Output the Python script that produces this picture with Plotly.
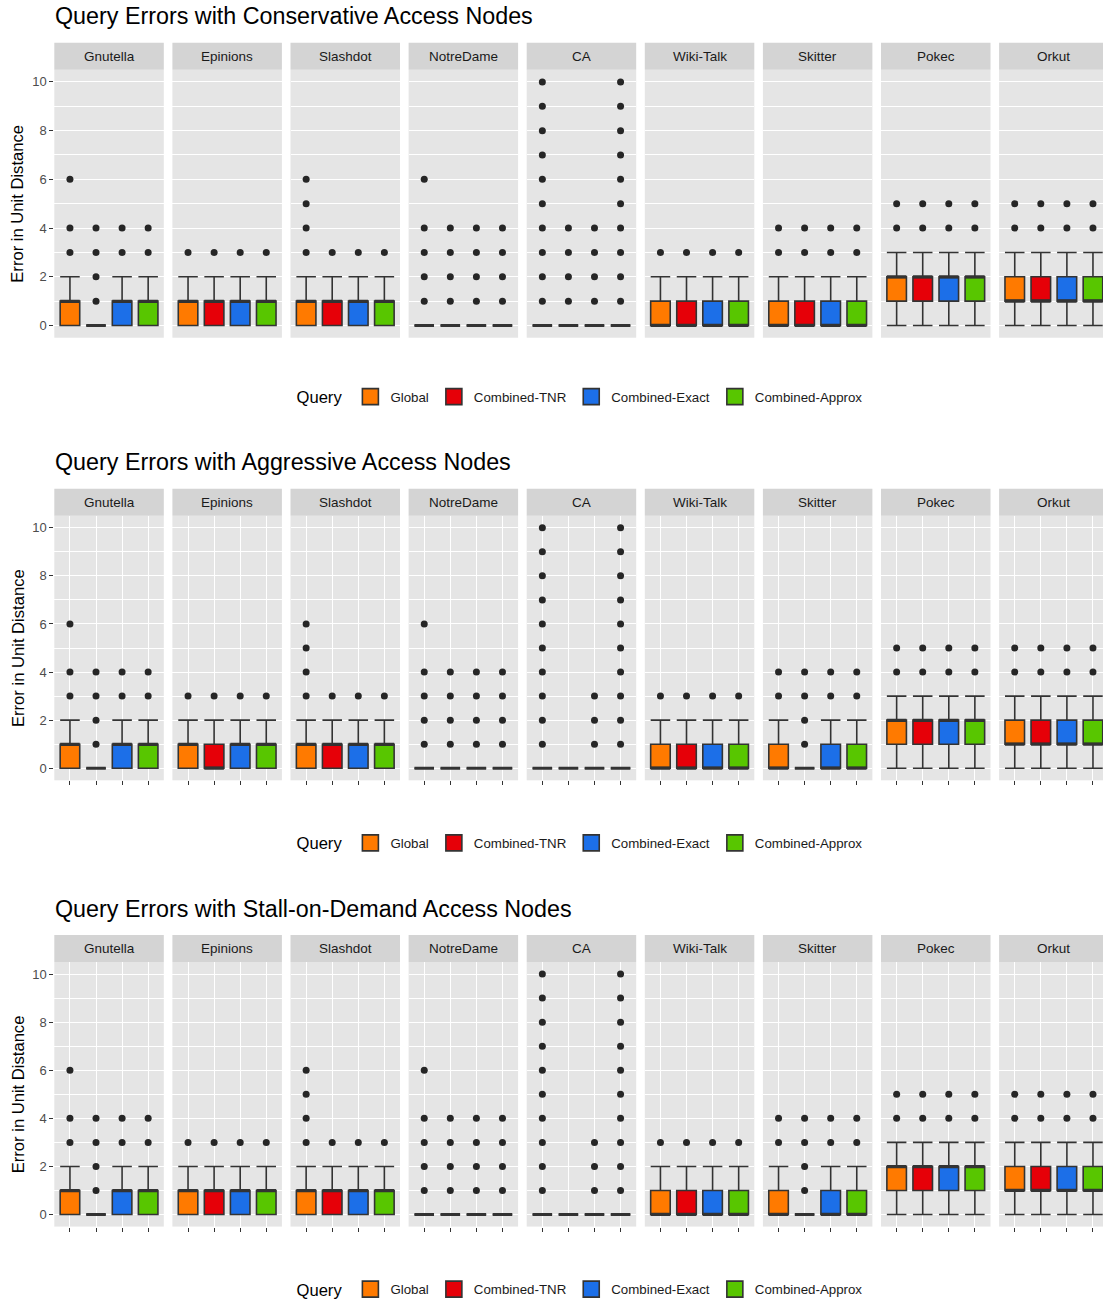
import plotly.graph_objects as go

# ---------------------------------------------------------------- data
DATASETS = ["Gnutella", "Epinions", "Slashdot", "NotreDame", "CA",
            "Wiki-Talk", "Skitter", "Pokec", "Orkut"]
QUERIES = ["Global", "Combined-TNR", "Combined-Exact", "Combined-Approx"]
QUERY_COLORS = ["#FF7A00", "#E60008", "#1C6FE8", "#58C600"]
ROW_TITLES = ["Query Errors with Conservative Access Nodes",
              "Query Errors with Aggressive Access Nodes",
              "Query Errors with Stall-on-Demand Access Nodes"]
Y_TICKS = [0, 2, 4, 6, 8, 10]
ALL_TEN = [1, 2, 3, 4, 5, 6, 7, 8, 9, 10]

# Box statistics: one list per dataset, one value per query
CONS_LOWER = [[0, 0, 0, 0]] * 9
CONS_Q1 = [[0, 0, 0, 0], [0, 0, 0, 0], [0, 0, 0, 0], [0, 0, 0, 0], [0, 0, 0, 0],
           [0, 0, 0, 0], [0, 0, 0, 0], [1, 1, 1, 1], [1, 1, 1, 1]]
CONS_MEDIAN = [[1, 0, 1, 1], [1, 1, 1, 1], [1, 1, 1, 1], [0, 0, 0, 0], [0, 0, 0, 0],
               [0, 0, 0, 0], [0, 0, 0, 0], [2, 2, 2, 2], [1, 1, 1, 1]]
CONS_Q3 = [[1, 0, 1, 1], [1, 1, 1, 1], [1, 1, 1, 1], [0, 0, 0, 0], [0, 0, 0, 0],
           [1, 1, 1, 1], [1, 1, 1, 1], [2, 2, 2, 2], [2, 2, 2, 2]]
CONS_UPPER = [[2, 0, 2, 2], [2, 2, 2, 2], [2, 2, 2, 2], [0, 0, 0, 0], [0, 0, 0, 0],
              [2, 2, 2, 2], [2, 2, 2, 2], [3, 3, 3, 3], [3, 3, 3, 3]]
CONS_OUTLIERS = [
    [[3, 4, 6], [1, 2, 3, 4], [3, 4], [3, 4]],
    [[3], [3], [3], [3]],
    [[3, 4, 5, 6], [3], [3], [3]],
    [[1, 2, 3, 4, 6], [1, 2, 3, 4], [1, 2, 3, 4], [1, 2, 3, 4]],
    [ALL_TEN, [1, 2, 3, 4], [1, 2, 3, 4], ALL_TEN],
    [[3], [3], [3], [3]],
    [[3, 4], [3, 4], [3, 4], [3, 4]],
    [[4, 5], [4, 5], [4, 5], [4, 5]],
    [[4, 5], [4, 5], [4, 5], [4, 5]],
]

AGGR_LOWER = [[0, 0, 0, 0]] * 9
AGGR_Q1 = [[0, 0, 0, 0], [0, 0, 0, 0], [0, 0, 0, 0], [0, 0, 0, 0], [0, 0, 0, 0],
           [0, 0, 0, 0], [0, 0, 0, 0], [1, 1, 1, 1], [1, 1, 1, 1]]
AGGR_MEDIAN = [[1, 0, 1, 1], [1, 0, 1, 1], [1, 1, 1, 1], [0, 0, 0, 0], [0, 0, 0, 0],
               [0, 0, 0, 0], [0, 0, 0, 0], [2, 2, 2, 2], [1, 1, 1, 1]]
AGGR_Q3 = [[1, 0, 1, 1], [1, 1, 1, 1], [1, 1, 1, 1], [0, 0, 0, 0], [0, 0, 0, 0],
           [1, 1, 1, 1], [1, 0, 1, 1], [2, 2, 2, 2], [2, 2, 2, 2]]
AGGR_UPPER = [[2, 0, 2, 2], [2, 2, 2, 2], [2, 2, 2, 2], [0, 0, 0, 0], [0, 0, 0, 0],
              [2, 2, 2, 2], [2, 0, 2, 2], [3, 3, 3, 3], [3, 3, 3, 3]]
AGGR_OUTLIERS = [
    [[3, 4, 6], [1, 2, 3, 4], [3, 4], [3, 4]],
    [[3], [3], [3], [3]],
    [[3, 4, 5, 6], [3], [3], [3]],
    [[1, 2, 3, 4, 6], [1, 2, 3, 4], [1, 2, 3, 4], [1, 2, 3, 4]],
    [ALL_TEN, [], [1, 2, 3], ALL_TEN],
    [[3], [3], [3], [3]],
    [[3, 4], [1, 2, 3, 4], [3, 4], [3, 4]],
    [[4, 5], [4, 5], [4, 5], [4, 5]],
    [[4, 5], [4, 5], [4, 5], [4, 5]],
]

STALL_LOWER = [[0, 0, 0, 0]] * 9
STALL_Q1 = [[0, 0, 0, 0], [0, 0, 0, 0], [0, 0, 0, 0], [0, 0, 0, 0], [0, 0, 0, 0],
            [0, 0, 0, 0], [0, 0, 0, 0], [1, 1, 1, 1], [1, 1, 1, 1]]
STALL_MEDIAN = [[1, 0, 1, 1], [1, 1, 1, 1], [1, 1, 1, 1], [0, 0, 0, 0], [0, 0, 0, 0],
                [0, 0, 0, 0], [0, 0, 0, 0], [2, 2, 2, 2], [1, 1, 1, 1]]
STALL_Q3 = [[1, 0, 1, 1], [1, 1, 1, 1], [1, 1, 1, 1], [0, 0, 0, 0], [0, 0, 0, 0],
            [1, 1, 1, 1], [1, 0, 1, 1], [2, 2, 2, 2], [2, 2, 2, 2]]
STALL_UPPER = [[2, 0, 2, 2], [2, 2, 2, 2], [2, 2, 2, 2], [0, 0, 0, 0], [0, 0, 0, 0],
               [2, 2, 2, 2], [2, 0, 2, 2], [3, 3, 3, 3], [3, 3, 3, 3]]
STALL_OUTLIERS = [
    [[3, 4, 6], [1, 2, 3, 4], [3, 4], [3, 4]],
    [[3], [3], [3], [3]],
    [[3, 4, 5, 6], [3], [3], [3]],
    [[1, 2, 3, 4, 6], [1, 2, 3, 4], [1, 2, 3, 4], [1, 2, 3, 4]],
    [ALL_TEN, [], [1, 2, 3], ALL_TEN],
    [[3], [3], [3], [3]],
    [[3, 4], [1, 2, 3, 4], [3, 4], [3, 4]],
    [[4, 5], [4, 5], [4, 5], [4, 5]],
    [[4, 5], [4, 5], [4, 5], [4, 5]],
]

ROWS = [
    (CONS_LOWER, CONS_Q1, CONS_MEDIAN, CONS_Q3, CONS_UPPER, CONS_OUTLIERS),
    (AGGR_LOWER, AGGR_Q1, AGGR_MEDIAN, AGGR_Q3, AGGR_UPPER, AGGR_OUTLIERS),
    (STALL_LOWER, STALL_Q1, STALL_MEDIAN, STALL_Q3, STALL_UPPER, STALL_OUTLIERS),
]

# ---------------------------------------------------------------- layout geometry (pixels)
W, H = 1103, 1306
FONT = "Liberation Sans, Arial, Helvetica, sans-serif"
PANEL_BG = "#E5E5E5"
STRIP_BG = "#D4D4D4"
INK = "#333333"

PANEL_LEFT0, PANEL_PITCH, PANEL_W = 54.3, 118.1, 109.5
ROW_STEP = 448
STRIP_TOP, PANEL_TOP, PANEL_BOTTOM = 43.0, 70.0, 339.0
ROW2_STRIP_TOP, ROW2_PANEL_TOP, ROW2_PANEL_BOTTOM = 490.7, 517.7, 783.3
TITLE_Y, LEGEND_Y = 16, 399
X_LO, X_HI = 0.4, 4.6
BOX_W = 0.75


def px_x(p):
    return p / W


def px_y(p):
    return 1 - p / H


def row_geom(r):
    if r == 0:
        return STRIP_TOP, PANEL_TOP, PANEL_BOTTOM
    off = (r - 1) * ROW_STEP
    return ROW2_STRIP_TOP + off, ROW2_PANEL_TOP + off, ROW2_PANEL_BOTTOM + off


fig = go.Figure()
layout = {}
shapes = []
annotations = []

legend_names = ["legend", "legend2", "legend3"]

for r, (lower, q1, med, q3, upper, outl) in enumerate(ROWS):
    s_top, p_top, p_bot = row_geom(r)
    for c, name in enumerate(DATASETS):
        k = r * len(DATASETS) + c + 1
        xa = "x" if k == 1 else f"x{k}"
        ya = "y" if k == 1 else f"y{k}"
        left = PANEL_LEFT0 + c * PANEL_PITCH
        right_full = left + PANEL_W
        right = min(W, right_full)
        x_hi = X_LO + (X_HI - X_LO) * (right - left) / PANEL_W

        xaxis = dict(domain=[px_x(left), px_x(right)], range=[X_LO, x_hi],
                     anchor=ya, showticklabels=False, zeroline=False,
                     showline=False, fixedrange=True)
        if r == 0:
            xaxis.update(showgrid=False, ticks="")
        else:
            xaxis.update(showgrid=True, gridcolor="white", gridwidth=1.3,
                         tickmode="array", tickvals=[1, 2, 3, 4],
                         ticks="outside", ticklen=4, tickwidth=1.1, tickcolor=INK)
        yaxis = dict(domain=[px_y(p_bot), px_y(p_top)], range=[-0.5, 10.5],
                     anchor=xa, zeroline=False, showline=False, fixedrange=True,
                     tickmode="array", tickvals=Y_TICKS,
                     showgrid=True, gridcolor="white", gridwidth=1.3,
                     minor=dict(tickmode="linear", tick0=0, dtick=1, showgrid=True,
                                gridcolor="white", gridwidth=0.7, ticks=""))
        if c == 0:
            yaxis.update(showticklabels=True, ticks="outside", ticklen=4,
                         tickwidth=1.1, tickcolor=INK,
                         tickfont=dict(family=FONT, size=13, color="#4D4D4D"))
        else:
            yaxis.update(showticklabels=False, ticks="")
        layout["xaxis" if k == 1 else f"xaxis{k}"] = xaxis
        layout["yaxis" if k == 1 else f"yaxis{k}"] = yaxis

        # strip header
        shapes.append(dict(type="rect", xref="paper", yref="paper",
                           x0=px_x(left), x1=px_x(right),
                           y0=px_y(p_top), y1=px_y(s_top),
                           fillcolor=STRIP_BG, line=dict(width=0), layer="below"))
        annotations.append(dict(text=name, xref="paper", yref="paper",
                                x=px_x((left + right_full) / 2),
                                y=px_y((s_top + p_top) / 2),
                                xanchor="center", yanchor="middle", showarrow=False,
                                font=dict(family=FONT, size=13.5, color="#1A1A1A")))

        med_x, med_y, out_x, out_y = [], [], [], []
        for q, qname in enumerate(QUERIES):
            pos = q + 1
            fig.add_trace(go.Box(
                x=[pos], q1=[q1[c][q]], median=[med[c][q]], q3=[q3[c][q]],
                lowerfence=[lower[c][q]], upperfence=[upper[c][q]],
                width=BOX_W, whiskerwidth=1, name=qname,
                fillcolor=QUERY_COLORS[q], line=dict(color=INK, width=1.6),
                xaxis=xa, yaxis=ya, showlegend=False, hoverinfo="skip"))
            med_x += [pos - BOX_W / 2, pos + BOX_W / 2, None]
            med_y += [med[c][q], med[c][q], None]
            for v in outl[c][q]:
                out_x.append(pos)
                out_y.append(v)
        fig.add_trace(go.Scatter(x=med_x, y=med_y, mode="lines",
                                 line=dict(color=INK, width=3),
                                 xaxis=xa, yaxis=ya, showlegend=False,
                                 hoverinfo="skip"))
        fig.add_trace(go.Scatter(x=out_x, y=out_y, mode="markers",
                                 marker=dict(color="#262626", size=7),
                                 xaxis=xa, yaxis=ya, showlegend=False,
                                 hoverinfo="skip"))

    # legend keys for the row (one filled square per query)
    first_x = "x" if r == 0 else f"x{r * len(DATASETS) + 1}"
    first_y = "y" if r == 0 else f"y{r * len(DATASETS) + 1}"
    for q, qname in enumerate(QUERIES):
        fig.add_trace(go.Scatter(
            x=[None], y=[None], mode="markers", name=qname,
            marker=dict(symbol="square", size=16, color=QUERY_COLORS[q],
                        line=dict(color=INK, width=1.6)),
            xaxis=first_x, yaxis=first_y, legend=legend_names[r],
            showlegend=True, hoverinfo="skip"))

    # row title
    annotations.append(dict(text=ROW_TITLES[r], xref="paper", yref="paper",
                            x=px_x(PANEL_LEFT0 - 1), y=px_y(TITLE_Y + r * ROW_STEP),
                            xanchor="left", yanchor="middle", showarrow=False,
                            font=dict(family=FONT, size=23.3, color="black")))
    # y-axis title
    annotations.append(dict(text="Error in Unit Distance", xref="paper", yref="paper",
                            x=px_x(18), y=px_y((p_top + p_bot) / 2),
                            xanchor="center", yanchor="middle", textangle=-90,
                            showarrow=False,
                            font=dict(family=FONT, size=16.6, color="black")))
    # legend
    layout[legend_names[r]] = dict(
        orientation="h", x=px_x(581), xanchor="center",
        y=px_y(LEGEND_Y + r * ROW_STEP), yanchor="middle",
        title=dict(text="Query", side="left",
                   font=dict(family=FONT, size=16.6, color="black")),
        font=dict(family=FONT, size=13.3, color="#1A1A1A"),
        bgcolor="rgba(0,0,0,0)", traceorder="normal", itemwidth=30,
        itemsizing="trace")

fig.update_layout(
    width=W, height=H, autosize=False,
    margin=dict(l=0, r=0, t=0, b=0),
    paper_bgcolor="white", plot_bgcolor=PANEL_BG,
    font=dict(family=FONT),
    boxmode="overlay",
    shapes=shapes, annotations=annotations,
    **layout,
)

fig.write_html("out.html")
